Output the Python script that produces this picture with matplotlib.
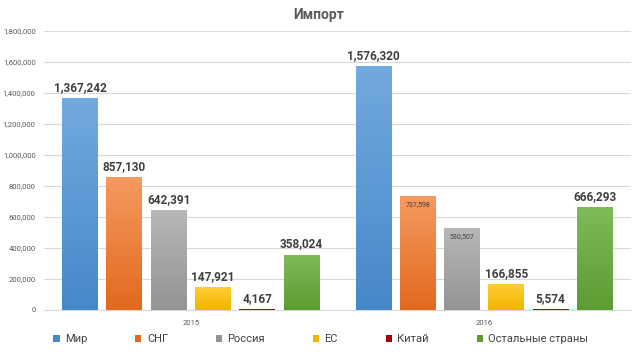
import matplotlib
matplotlib.use("Agg")
import matplotlib.pyplot as plt
import numpy as np
from matplotlib.colors import to_rgb, LinearSegmentedColormap
from matplotlib.patches import Patch

plt.rcParams['font.family'] = ['Roboto', 'DejaVu Sans']

years = ["2015", "2016"]
series = ["Мир", "СНГ", "Россия", "ЕС", "Китай", "Остальные страны"]
values = {
    "Мир": [1367242, 1576320],
    "СНГ": [857130, 737598],
    "Россия": [642391, 530507],
    "ЕС": [147921, 166855],
    "Китай": [4167, 5574],
    "Остальные страны": [358024, 666293],
}
# (top colour, bottom colour) for the gradient fill
colors = {
    "Мир": ("#72A9DF", "#4788C9"),
    "СНГ": ("#F59A60", "#E2691F"),
    "Россия": ("#B7B7B7", "#949494"),
    "ЕС": ("#FFCE35", "#F2B300"),
    "Китай": ("#C00000", "#A00000"),
    "Остальные страны": ("#7FBB58", "#5C9C32"),
}
small_inside = {("СНГ", 1), ("Россия", 1)}

fig = plt.figure(figsize=(6.38, 3.59), dpi=100)
ax = fig.add_axes([0.069, 0.1365, 0.92, 0.777])

x = np.arange(len(years))
step = 0.151
width = 0.122
text_col = "#404040"

for i, name in enumerate(series):
    top, bottom = colors[name]
    bars = ax.bar(x + (i - 2.5) * step, values[name], width,
                  color=bottom, edgecolor="none", zorder=2)
    cmap = LinearSegmentedColormap.from_list(name, [to_rgb(bottom), to_rgb(top)])
    grad = np.linspace(0, 1, 64).reshape(-1, 1)
    for j, b in enumerate(bars):
        x0, w, h = b.get_x(), b.get_width(), b.get_height()
        im = ax.imshow(grad, cmap=cmap, origin="lower", aspect="auto",
                       extent=(x0, x0 + w, 0, h), zorder=3)
        im.set_clip_path(b)
        label = f"{values[name][j]:,}"
        if (name, j) in small_inside:
            ax.annotate(label, (x0 + w / 2, h), xytext=(0, -6.5),
                        textcoords="offset points", ha="center", va="center",
                        fontsize=5, color=text_col, zorder=4)
        else:
            ax.annotate(label, (x0 + w / 2, h), xytext=(0, 7.5),
                        textcoords="offset points", ha="center", va="center",
                        fontsize=8.5, fontweight="bold", color=text_col, zorder=4)

ax.set_xlim(-0.5, 1.5)
ax.set_ylim(0, 1800000)
ax.set_yticks(np.arange(0, 1800001, 200000))
ax.yaxis.set_major_formatter(matplotlib.ticker.FuncFormatter(lambda v, p: f"{int(v):,}"))
ax.set_xticks(x)
ax.set_xticklabels(years)
ax.tick_params(axis="both", length=0, labelsize=5.5, labelcolor="#595959")
ax.tick_params(axis="y", pad=6)
ax.tick_params(axis="x", pad=7)
ax.grid(axis="y", color="#D9D9D9", linewidth=0.8, zorder=0)
for s in ["top", "right", "left"]:
    ax.spines[s].set_visible(False)
ax.spines["bottom"].set_color("#D9D9D9")
ax.spines["bottom"].set_linewidth(0.8)

fig.text(0.5, 0.957, "Импорт", ha="center", va="center", fontsize=10,
         fontweight="bold", color="#595959")

handles = [Patch(facecolor=colors[n][1], edgecolor="none") for n in series]
fig.legend(handles, series, loc="center", bbox_to_anchor=(0.503, 0.055), ncol=6,
           frameon=False, fontsize=8, handlelength=0.55, handleheight=0.55,
           handletextpad=0.5, columnspacing=4.3, labelcolor="#404040")

fig.savefig("out.png", dpi=100)
